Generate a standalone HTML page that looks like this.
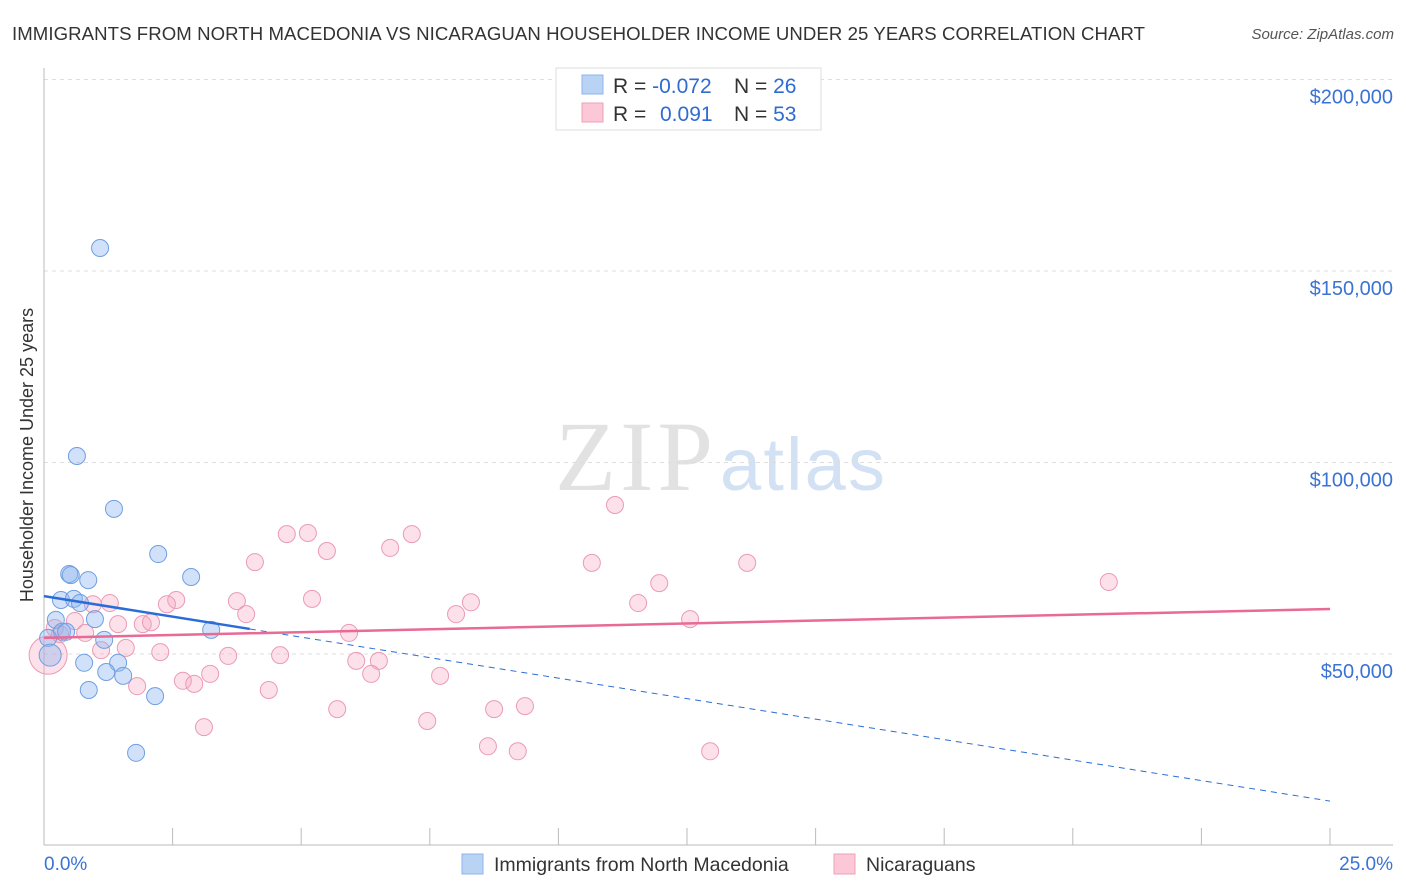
<!DOCTYPE html>
<html><head><meta charset="utf-8"><style>
body{margin:0;background:#fff;font-family:"Liberation Sans",sans-serif}
svg{display:block}
</style></head><body>
<svg id="c" width="1406" height="892" font-family="Liberation Sans, sans-serif">
<text x="12" y="40" font-size="18.6" fill="#333" textLength="1133">IMMIGRANTS FROM NORTH MACEDONIA VS NICARAGUAN HOUSEHOLDER INCOME UNDER 25 YEARS CORRELATION CHART</text>
<text x="1394" y="39" font-size="15" fill="#555" font-style="italic" text-anchor="end">Source: ZipAtlas.com</text>
<text x="713" y="490" font-size="100" font-family="Liberation Serif, serif" fill="#e2e2e2" text-anchor="end" textLength="158">ZIP</text>
<text x="720" y="490" font-size="74" fill="#d3e1f5" textLength="165">atlas</text>
<text transform="translate(33,455) rotate(-90)" font-size="18" fill="#333" text-anchor="middle">Householder Income Under 25 years</text>
<g id="grid"></g><g id="axes"></g><g id="pts"></g><g id="lines"></g>
<g>
<rect x="556" y="68" width="265" height="62" fill="#fff" stroke="#ddd"/>
<rect x="582" y="75" width="21" height="19" fill="#b9d3f5" stroke="#8fb3e8"/>
<rect x="582" y="103" width="21" height="19" fill="#fcc8d7" stroke="#eda0b8"/>
<text x="613" y="93" font-size="21" fill="#333">R = <tspan fill="#2f6bd0">-0.072</tspan><tspan x="734">N = </tspan><tspan fill="#2f6bd0">26</tspan></text>
<text x="613" y="121" font-size="21" fill="#333">R = <tspan x="660" fill="#2f6bd0">0.091</tspan><tspan x="734">N = </tspan><tspan fill="#2f6bd0">53</tspan></text>
</g>
<g>
<rect x="462" y="854" width="21" height="20" fill="#b9d3f5" stroke="#8fb3e8"/>
<text x="494" y="871" font-size="19.5" fill="#333">Immigrants from North Macedonia</text>
<rect x="834" y="854" width="21" height="20" fill="#fcc8d7" stroke="#eda0b8"/>
<text x="866" y="871" font-size="19.5" fill="#333">Nicaraguans</text>
</g>
</svg>
<script>
const yTicks=[50000,100000,150000,200000];
const yTickLabels=["$50,000","$100,000","$150,000","$200,000"];
const xTickLabels=["0.0%","25.0%"];
const blueX=[1.09,0.64,1.36,2.22,0.49,0.52,0.86,2.86,0.33,0.58,0.70,0.99,0.23,3.25,0.35,1.17,0.08,0.12,0.78,1.44,1.21,1.54,0.87,2.16,1.79,0.43];
const blueY=[156.0,101.7,87.9,76.1,70.9,70.6,69.3,70.1,64.1,64.4,63.3,59.1,58.9,56.3,55.8,53.7,54.2,49.7,47.7,47.7,45.3,44.3,40.6,39.0,24.2,55.8];
const pinkX=[11.10,4.10,4.72,5.13,5.50,6.73,7.15,10.65,13.67,20.70,11.96,2.57,3.75,5.21,8.30,11.55,1.28,0.95,2.39,3.93,8.01,12.56,0.60,1.44,1.92,2.08,5.93,0.21,0.31,0.80,1.59,1.11,2.26,4.59,3.58,6.07,6.51,3.23,2.70,2.92,6.36,7.70,1.81,4.37,5.70,8.75,9.35,3.11,7.45,8.63,9.21,12.95,0.08];
const pinkY=[88.9,74.0,81.3,81.6,76.9,77.7,81.3,73.8,73.8,68.8,68.5,64.1,63.8,64.4,63.5,63.3,63.3,63.0,63.0,60.4,60.4,59.1,58.6,57.8,57.8,58.3,55.5,56.8,55.2,55.5,51.6,51.0,50.5,49.7,49.5,48.2,48.2,44.8,43.0,42.2,44.8,44.3,41.6,40.6,35.6,35.6,36.4,30.9,32.5,25.9,24.6,24.6,49.7];
const blueTrend=[65.1,11.6];
const pinkTrend=[54.2,61.75];
const X=p=>44+p/25*1286;
const Y=k=>845.5-k/50*191.5;
const NS="http://www.w3.org/2000/svg";
function mk(t,a,parent){const e=document.createElementNS(NS,t);for(const k in a)e.setAttribute(k,a[k]);document.getElementById(parent).appendChild(e);return e;}
yTicks.forEach((v,i)=>{
 const g=mk('line',{x1:44,x2:1393,y1:Y(v/1000),y2:Y(v/1000),stroke:'#ddd','stroke-dasharray':'4,4'},'grid');
 
 
 const t=mk('text',{x:1393,y:Y(v/1000)+24,'font-size':20,fill:'#3b73d4','text-anchor':'end'},'grid');
 t.textContent=yTickLabels[i];
 
 
});
const ax=mk('line',{x1:44,x2:44,y1:68,y2:845,stroke:'#bbb'},'axes');


const bx=mk('line',{x1:44,x2:1393,y1:845,y2:845,stroke:'#bbb'},'axes');


for(let i=0;i<=10;i++){const t=mk('line',{x1:X(i*2.5),x2:X(i*2.5),y1:828,y2:845,stroke:'#bbb'},'axes');
 
 }
const l0=mk('text',{x:44,y:870,'font-size':19,fill:'#3b73d4'},'axes');l0.textContent=xTickLabels[0];


const l1=mk('text',{x:1393,y:870,'font-size':19,fill:'#3b73d4','text-anchor':'end'},'axes');l1.textContent=xTickLabels[1];


pinkX.forEach((x,i)=>{const big=i===pinkX.length-1;
 const c=mk('circle',{cx:X(x),cy:Y(pinkY[i]),r:big?19:8.5,fill:'rgba(247,165,190,0.33)',stroke:'#eb9bb4','stroke-width':1},'pts');
 
 });
blueX.forEach((x,i)=>{const big=i===17;
 const c=mk('circle',{cx:X(x),cy:Y(blueY[i]),r:big?11:8.5,fill:'rgba(140,180,240,0.4)',stroke:'#6f9fe2','stroke-width':1},'pts');
 
 });
const by=p=>blueTrend[0]+(blueTrend[1]-blueTrend[0])*p/25;
const b1=mk('line',{x1:X(0),y1:Y(by(0)),x2:X(4),y2:Y(by(4)),stroke:'#2a6dd9','stroke-width':2.5},'lines');


const b2=mk('line',{x1:X(4),y1:Y(by(4)),x2:X(25),y2:Y(by(25)),stroke:'#2a6dd9','stroke-width':1,'stroke-dasharray':'6,5'},'lines');


const p1=mk('line',{x1:X(0),y1:Y(pinkTrend[0]),x2:X(25),y2:Y(pinkTrend[1]),stroke:'#e86a95','stroke-width':2.5},'lines');


</script>
</body></html>
